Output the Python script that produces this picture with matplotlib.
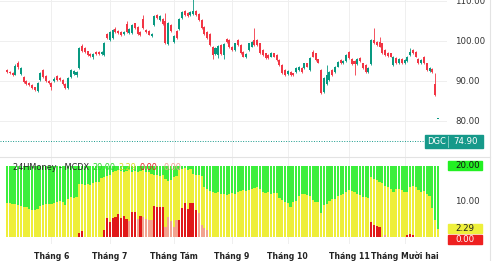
import numpy as np
import matplotlib
matplotlib.use("Agg")
import matplotlib.pyplot as plt
from matplotlib.patches import Rectangle
from matplotlib.lines import Line2D

# ---- price candles (one per trading day) ----
opens = [92.8, 92.3, 92.0, 91.6, 94.6, 91.8, 91.0, 89.9, 89.5, 88.9, 88.4, 87.6, 90.2, 92.7, 91.2, 90.0,
         89.5, 90.0, 91.2, 90.8, 90.2, 89.3, 88.3, 91.0, 91.8, 91.5, 93.2, 98.8, 98.3, 97.4, 96.8, 96.0,
         97.3, 97.2, 96.8, 96.5, 101.8, 100.3, 100.8, 103.0, 102.5, 102.2, 101.8, 104.3, 102.0, 102.0, 104.4, 103.5,
         102.2, 105.5, 102.8, 102.5, 101.2, 104.0, 106.5, 105.2, 105.6, 105.0, 99.3, 104.0, 99.8, 102.5, 103.0, 105.7,
         107.5, 107.0, 106.5, 106.8, 107.5, 106.8, 105.3, 103.5, 102.2, 101.8, 98.6, 96.8, 96.5, 99.0, 96.5, 100.6,
         100.2, 98.5, 97.8, 100.3, 99.0, 97.2, 96.0, 97.8, 98.6, 100.3, 100.3, 99.4, 97.8, 96.9, 96.5, 96.1,
         96.9, 96.5, 95.2, 94.0, 92.8, 91.7, 92.3, 91.9, 92.3, 92.8, 93.2, 93.2, 94.4, 92.8, 97.3, 96.9,
         95.4, 92.7, 87.3, 89.3, 90.3, 92.7, 92.3, 93.6, 95.2, 94.4, 94.9, 97.3, 95.5, 95.0, 94.3, 95.7,
         94.4, 94.0, 92.3, 94.2, 100.3, 99.8, 99.8, 99.4, 97.8, 97.1, 96.9, 94.0, 95.7, 94.4, 95.6, 94.4,
         95.0, 96.5, 97.8, 97.3, 95.6, 94.4, 96.0, 94.4, 92.4, 93.0, 89.2, 80.5]
highs = [93.1, 92.6, 92.3, 94.2, 95.1, 93.6, 91.3, 90.2, 89.8, 89.2, 88.6, 89.8, 92.2, 93.0, 91.4, 90.3,
         89.7, 90.9, 91.5, 91.0, 90.4, 89.5, 91.0, 92.9, 92.8, 92.5, 98.4, 99.2, 98.5, 97.6, 97.0, 97.0,
         97.5, 97.4, 97.4, 99.7, 102.0, 102.4, 103.0, 103.6, 102.7, 102.4, 102.5, 105.0, 103.2, 104.2, 104.6, 103.7,
         102.4, 106.5, 103.0, 102.7, 102.0, 106.5, 106.8, 106.4, 105.8, 107.0, 104.7, 104.2, 101.5, 102.7, 105.7, 107.4,
         107.7, 107.2, 107.5, 110.5, 107.7, 107.0, 105.5, 103.7, 102.4, 102.0, 98.8, 98.5, 99.0, 99.2, 99.5, 100.8,
         100.4, 98.7, 99.6, 100.5, 99.2, 97.4, 97.0, 99.6, 100.0, 103.2, 100.5, 99.6, 98.0, 97.1, 96.7, 97.3,
         97.1, 96.7, 95.4, 94.2, 93.0, 92.7, 92.5, 92.1, 93.4, 93.8, 93.4, 94.6, 94.6, 95.9, 97.8, 97.1,
         95.6, 93.0, 91.0, 94.0, 92.5, 92.9, 93.8, 95.0, 95.4, 95.2, 96.7, 97.5, 95.7, 95.2, 95.7, 95.9,
         94.6, 94.2, 93.4, 100.5, 103.2, 100.0, 101.0, 99.6, 98.0, 97.3, 97.1, 96.2, 95.9, 95.8, 95.8, 95.4,
         96.3, 98.3, 98.0, 97.5, 95.8, 95.4, 96.2, 94.6, 93.4, 93.2, 92.0, 80.5]
lows = [92.0, 91.7, 91.3, 91.4, 93.1, 91.5, 89.6, 89.1, 88.8, 88.0, 87.5, 87.2, 90.0, 90.8, 89.8, 89.3,
        87.8, 89.8, 90.1, 90.0, 89.0, 88.1, 88.1, 90.8, 91.5, 90.9, 93.0, 97.3, 97.0, 96.2, 96.0, 95.5,
        96.5, 96.6, 96.6, 96.3, 100.6, 100.1, 100.6, 102.1, 101.8, 101.3, 101.6, 101.9, 101.8, 101.8, 103.1, 101.6,
        101.3, 103.0, 102.0, 101.4, 101.0, 103.8, 105.5, 105.0, 104.1, 99.3, 99.1, 102.3, 99.6, 100.6, 102.8, 105.5,
        106.3, 106.1, 106.3, 106.6, 106.3, 105.1, 103.0, 101.6, 100.6, 98.8, 95.5, 96.6, 95.8, 96.6, 95.4, 99.6,
        98.3, 97.6, 97.6, 98.8, 96.8, 95.9, 95.8, 97.6, 98.4, 98.8, 98.8, 96.7, 96.3, 95.5, 95.5, 95.9,
        95.9, 95.0, 93.8, 91.7, 91.3, 91.5, 91.3, 91.3, 92.1, 92.6, 92.1, 93.0, 93.4, 92.6, 95.9, 95.0,
        94.4, 86.8, 87.1, 89.1, 90.1, 91.3, 92.1, 93.4, 94.2, 94.2, 94.7, 95.5, 94.1, 91.5, 94.1, 94.8,
        93.0, 92.1, 92.1, 94.0, 99.2, 98.7, 98.4, 96.7, 96.3, 96.1, 95.9, 93.8, 94.2, 94.2, 94.2, 94.2,
        94.8, 96.3, 96.8, 95.9, 94.2, 94.2, 94.2, 92.6, 92.2, 92.0, 86.3, 80.5]
closes = [92.3, 92.0, 91.6, 93.8, 93.4, 93.3, 89.8, 89.3, 89.0, 88.2, 87.8, 89.5, 92.0, 91.0, 90.0, 89.5,
          88.6, 90.6, 90.3, 90.2, 89.2, 88.3, 90.8, 92.7, 92.6, 92.3, 98.2, 97.5, 97.2, 96.4, 96.2, 96.8,
          96.7, 96.8, 97.2, 99.5, 100.8, 102.2, 102.8, 102.3, 102.0, 101.5, 102.3, 102.2, 102.9, 104.0, 103.3, 101.8,
          101.5, 103.2, 102.2, 101.6, 101.8, 106.3, 105.7, 106.2, 104.3, 99.5, 104.5, 102.5, 101.3, 100.8, 105.5, 107.2,
          106.5, 106.3, 107.3, 107.6, 106.5, 105.3, 103.2, 101.8, 100.8, 99.0, 96.5, 98.3, 98.8, 96.8, 99.3, 99.8,
          98.5, 97.8, 99.4, 99.0, 97.0, 96.1, 96.8, 99.4, 99.8, 99.0, 99.0, 96.9, 96.5, 95.7, 95.7, 97.1,
          96.1, 95.2, 94.0, 91.9, 91.5, 92.5, 91.5, 91.5, 93.2, 93.6, 92.3, 94.4, 93.6, 95.7, 96.1, 95.2,
          94.6, 87.0, 90.8, 91.5, 92.3, 91.5, 93.6, 94.8, 94.4, 95.0, 96.5, 95.7, 94.3, 94.3, 95.5, 95.0,
          93.2, 92.3, 93.2, 100.3, 99.4, 98.9, 98.6, 96.9, 96.5, 96.3, 96.1, 96.0, 94.4, 95.6, 94.4, 95.2,
          96.1, 97.3, 97.0, 96.1, 94.4, 95.2, 94.4, 92.8, 93.2, 92.2, 86.5, 80.5]

# ---- 24HMoney MCDX (green is always 20) ----
green_level = 20.0
yellow = [9.6, 9.5, 9.4, 9.2, 9.0, 8.6, 8.5, 8.4, 8.0, 7.7, 7.6, 7.8, 8.8, 9.0, 9.3, 9.4,
          9.2, 9.5, 10.0, 10.2, 9.9, 9.0, 10.8, 11.2, 11.0, 11.4, 15.0, 14.8, 14.6, 14.9, 14.7, 15.3,
          15.6, 15.4, 16.6, 17.0, 17.2, 17.4, 18.2, 18.6, 18.8, 18.5, 18.3, 18.7, 18.9, 18.4, 18.6, 18.2,
          18.5, 18.8, 18.4, 18.3, 17.8, 17.4, 17.6, 17.2, 17.5, 16.2, 15.8, 16.0, 16.8, 17.2, 18.8, 19.1,
          19.3, 19.0, 19.2, 17.8, 17.4, 17.6, 17.2, 14.2, 13.5, 13.0, 12.6, 12.4, 12.8, 12.2, 12.0, 11.8,
          12.1, 12.3, 12.0, 12.8, 13.0, 13.2, 12.9, 13.1, 13.4, 13.8, 14.0, 13.6, 12.8, 12.4, 12.6, 12.2,
          12.5, 12.3, 11.0, 10.4, 10.0, 9.6, 8.5, 9.8, 10.2, 11.5, 12.0, 12.2, 11.8, 11.5, 10.5, 10.0,
          9.8, 6.7, 9.0, 9.4, 10.2, 10.6, 10.8, 11.5, 11.8, 12.0, 12.8, 13.2, 13.0, 12.6, 12.2, 11.8,
          11.2, 11.4, 11.0, 17.0, 16.4, 16.0, 15.6, 15.2, 14.4, 14.0, 13.6, 12.7, 13.4, 13.6, 13.2, 12.6,
          12.8, 14.2, 14.4, 14.1, 13.2, 12.8, 13.0, 12.0, 11.6, 8.2, 4.8, 2.29]
red_idx = [26, 27, 35, 36, 37, 38, 39, 40, 41, 42, 43, 45, 46, 48, 53, 54, 55, 56,
           62, 63, 64, 65, 66, 67, 68, 131, 132, 133, 134, 144, 145, 146]
red_val = [1.1, 1.8, 2.0, 5.3, 4.3, 5.3, 5.5, 6.5, 5.3, 5.9, 5.1, 7.1, 7.1, 5.9, 8.7, 8.5, 8.4, 8.5,
           4.8, 8.2, 9.5, 7.8, 9.5, 9.5, 7.6, 4.3, 3.4, 3.0, 2.7, 0.6, 0.8, 0.7]
pink_idx = [44, 47, 49, 50, 51, 52, 57, 58, 59, 60, 61, 69, 70, 71, 72, 136]
pink_val = [4.5, 5.0, 5.5, 5.0, 4.8, 4.8, 2.8, 5.7, 4.5, 2.8, 4.8, 6.7, 3.4, 2.5, 2.0, 0.5]

month_pos = [16, 37, 60, 81, 101, 123, 143]
month_lbl = ["Tháng 6", "Tháng 7", "Tháng Tám", "Tháng 9", "Tháng 10", "Tháng 11", "Tháng Mười hai"]
price_ticks = [110, 100, 90, 80]
last_price = 74.90

UP, DOWN = "#089981", "#f23645"
TEAL = "#16998a"
GREEN, YELLOW, RED, PINK = "#3cee3c", "#eeee3a", "#e01818", "#f2a38f"

W, H = 497, 261
def box(x0, y0, x1, y1):
    return [x0 / W, 1 - y1 / H, (x1 - x0) / W, (y1 - y0) / H]

fig = plt.figure(figsize=(W / 100, H / 100), dpi=100)
ax1 = fig.add_axes(box(0, 0, 447, 157))
ax2 = fig.add_axes(box(0, 158, 447, 244), sharex=ax1)

n = len(closes)
x = np.arange(n)
o = np.array(opens); c = np.array(closes)
col = np.where(c >= o, UP, DOWN)

# candles
ax1.vlines(x, lows, highs, colors=col, lw=0.6, zorder=3)
body_lo = np.minimum(o, c)
body_h = np.maximum(np.abs(c - o), 0.15)
ax1.bar(x, body_h, bottom=body_lo, width=0.72, color=col, lw=0, zorder=4)

ax1.set_xlim(-7 / 2.78, 440 / 2.78)
ax1.set_ylim(71.0, 110.25)
for p in price_ticks:
    ax1.axhline(p, color="#efefef", lw=0.7, zorder=0)
    ax1.text(455 / 447, p, f"{p:.2f}", transform=ax1.get_yaxis_transform(),
             ha="left", va="center", fontsize=6.2, color="#333333", clip_on=False)
ax1.axhline(last_price, xmax=425 / 447, color=TEAL, lw=0.7, ls=(0, (1, 1.6)), zorder=2)

# MCDX bars
yl = np.array(yellow)
red = np.zeros(len(yl)); red[red_idx] = red_val
pink = np.zeros(len(yl)); pink[pink_idx] = pink_val
xb = np.arange(len(yl))
ax2.bar(xb, np.full(len(yl), green_level), width=0.78, color=GREEN, lw=0, zorder=2)
ax2.bar(xb, yl, width=0.78, color=YELLOW, lw=0, zorder=3)
ax2.bar(xb, pink, width=0.78, color=PINK, lw=0, zorder=4)
ax2.bar(xb, red, width=0.78, color=RED, lw=0, zorder=5)
ax2.set_ylim(-7 / 3.55, 79 / 3.55)
ax2.text(455 / 447, 10, "10.00", transform=ax2.get_yaxis_transform(),
         ha="left", va="center", fontsize=6.2, color="#333333", clip_on=False)

for ax in (ax1, ax2):
    for s in ax.spines.values():
        s.set_visible(False)
    ax.set_yticks([])
    ax.set_xticks(month_pos)
    ax.grid(axis="x", color="#efefef", lw=0.7, zorder=0)
    ax.tick_params(length=0)
    ax.set_facecolor("none")
ax1.tick_params(labelbottom=False)
ax2.set_xticklabels(month_lbl, fontsize=5.6, fontweight="bold", color="#222222")
ax2.tick_params(axis="x", pad=5.5)

# frame lines
fig.add_artist(Line2D([0, 490 / W], [1 - 157 / H] * 2, color="#e3e3e3", lw=0.8))
fig.add_artist(Line2D([490 / W] * 2, [0, 1], color="#e3e3e3", lw=0.8))

# price tag
fig.add_artist(Rectangle((425 / W, 1 - 148 / H), 58 / W, 13 / H, color=TEAL, transform=fig.transFigure))
fig.add_artist(Line2D([448 / W] * 2, [1 - 147 / H, 1 - 136 / H], color="#8fd3c8", lw=0.6))
fig.text(436.5 / W, 1 - 141.5 / H, "DGC", ha="center", va="center", fontsize=6, color="white")
fig.text(466 / W, 1 - 141.5 / H, f"{last_price:.2f}", ha="center", va="center", fontsize=6.2, color="white")

# MCDX value tags
for (y0, y1, fc, tc, txt) in [(161, 170, "#22f022", "#111111", f"{green_level:.2f}"),
                              (224, 233, "#eef03c", "#222222", f"{yellow[-1]:.2f}"),
                              (235, 244, "#ee2020", "white", f"{red[-1]:.2f}")]:
    fig.add_artist(Rectangle((448 / W, 1 - y1 / H), 34 / W, (y1 - y0) / H, color=fc, transform=fig.transFigure))
    fig.text(455 / W, 1 - (y0 + y1) / 2 / H, txt, ha="left", va="center", fontsize=6.2, color=tc)

# legend line
fig.text(13 / W, 1 - 168 / H, "24HMoney - MCDX", ha="left", va="center", fontsize=5.9, color="#222222")
for xp, txt, tc in [(92, f"{green_level:.2f}", "#2ad82a"), (118, f"{yellow[-1]:.2f}", "#d8d820"),
                    (140, f"{red[-1]:.2f}", "#e02020"), (163, f"{pink[-1]:.2f}", "#f0a090")]:
    fig.text(xp / W, 1 - 168 / H, txt, ha="left", va="center", fontsize=5.9, color=tc)

fig.savefig("out.png", dpi=100)
